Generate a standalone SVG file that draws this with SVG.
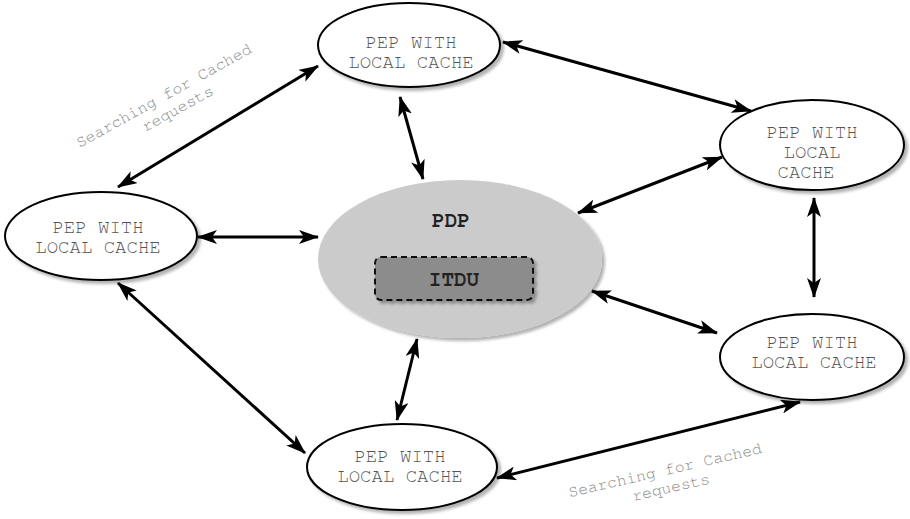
<svg xmlns="http://www.w3.org/2000/svg" width="910" height="519" viewBox="0 0 910 519">
  <defs>
    <filter id="sh" x="-10%" y="-10%" width="125%" height="130%">
      <feDropShadow dx="3" dy="3" stdDeviation="1.5" flood-color="#000" flood-opacity="0.3"/>
    </filter>
    <marker id="ah" viewBox="0 0 20 14" refX="19" refY="7" markerWidth="20" markerHeight="14" markerUnits="userSpaceOnUse" orient="auto-start-reverse">
      <path d="M0,0 L20,7 L0,14 L5,7 z" fill="#000"/>
    </marker>
  </defs>
  <style>
    .pep { fill: #fff; stroke: #000; stroke-width: 2; filter: url(#sh); }
    .t { font-family: "Nimbus Mono PS", "FreeMono", "Courier New", "Liberation Mono", monospace; font-size: 19px; fill: #555; text-anchor: middle; }
    .tb { font-family: "Nimbus Mono PS", "FreeMono", "Courier New", "Liberation Mono", monospace; font-size: 21px; font-weight: bold; fill: #222; text-anchor: middle; }
    .lbl { font-family: "Nimbus Mono PS", "FreeMono", "Courier New", "Liberation Mono", monospace; font-size: 16.5px; fill: #8a8a8a; text-anchor: middle; }
    .c line { stroke: #000; stroke-width: 3; marker-start: url(#ah); marker-end: url(#ah); }
  </style>

  <g id="pdp">
    <ellipse cx="460" cy="259" rx="142" ry="79" fill="#cbcbcb" filter="url(#sh)"/>
    <text class="tb" x="451" y="227">PDP</text>
  </g>
  <g id="itdu">
    <rect x="375" y="257" width="158" height="43" rx="6" fill="#8c8c8c" stroke="#111" stroke-width="2" stroke-dasharray="6,4" filter="url(#sh)"/>
    <text class="tb" x="454" y="286">ITDU</text>
  </g>

  <g id="pep-top">
    <ellipse class="pep" cx="409" cy="45" rx="91" ry="42"/>
    <text class="t" x="411" y="48">PEP WITH</text>
    <text class="t" x="411" y="68">LOCAL CACHE</text>
  </g>
  <g id="pep-right-top">
    <ellipse class="pep" cx="812" cy="145" rx="92" ry="45"/>
    <text class="t" x="812" y="138">PEP WITH</text>
    <text class="t" x="812" y="158">LOCAL</text>
    <text class="t" x="806" y="178">CACHE</text>
  </g>
  <g id="pep-left">
    <ellipse class="pep" cx="101" cy="236" rx="96" ry="44"/>
    <text class="t" x="98" y="233">PEP WITH</text>
    <text class="t" x="98" y="253">LOCAL CACHE</text>
  </g>
  <g id="pep-right-bottom">
    <ellipse class="pep" cx="812" cy="357" rx="92" ry="43"/>
    <text class="t" x="812" y="348">PEP WITH</text>
    <text class="t" x="814" y="368">LOCAL CACHE</text>
  </g>
  <g id="pep-bottom">
    <ellipse class="pep" cx="402" cy="467" rx="95" ry="43"/>
    <text class="t" x="400" y="462">PEP WITH</text>
    <text class="t" x="400" y="482">LOCAL CACHE</text>
  </g>

  <g id="connectors" class="c">
    <line x1="118" y1="187" x2="318" y2="66"/>
    <line x1="400" y1="97" x2="423" y2="179"/>
    <line x1="503" y1="42" x2="751" y2="111"/>
    <line x1="722" y1="157" x2="578" y2="213"/>
    <line x1="814" y1="198" x2="814" y2="297"/>
    <line x1="198" y1="237" x2="318" y2="237"/>
    <line x1="592" y1="291" x2="717" y2="333"/>
    <line x1="118" y1="283" x2="305" y2="453"/>
    <line x1="417" y1="339" x2="397" y2="420"/>
    <line x1="497" y1="478" x2="800" y2="402"/>
  </g>

  <g id="label-1" transform="translate(166,100) rotate(-29)">
    <text class="lbl" x="0" y="0">Searching for Cached</text>
    <text class="lbl" x="6" y="18">requests</text>
  </g>
  <g id="label-2" transform="translate(666,475) rotate(-13)">
    <text class="lbl" x="0" y="0">Searching for Cached</text>
    <text class="lbl" x="2" y="18">requests</text>
  </g>
</svg>
